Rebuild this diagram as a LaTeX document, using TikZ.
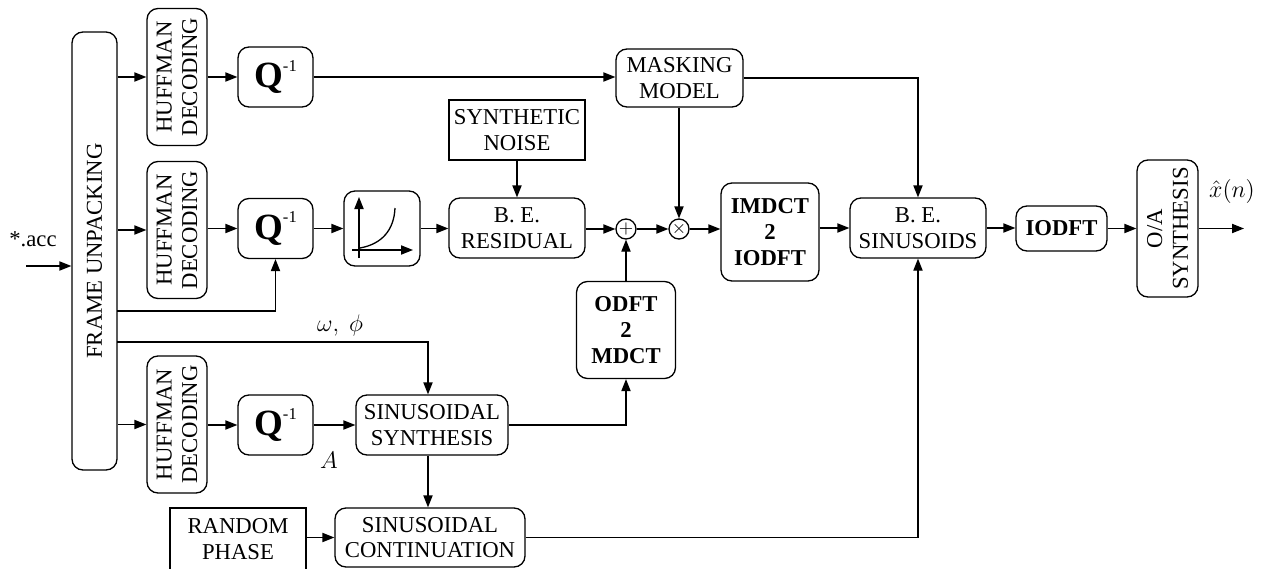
\documentclass[tikz,border=0pt]{standalone}
\usepackage{fontspec}
\setmainfont{Liberation Serif}
\usetikzlibrary{arrows.meta,calc}
\begin{document}
\begin{tikzpicture}[x=0.5pt,y=-0.5pt,
  line width=0.65pt,
  arr/.style={-{Triangle[length=6pt,width=4.6pt]}},
  txt/.style={font=\fontsize{11.35}{12.85}\selectfont, align=center, inner sep=0pt},
  rbox/.style={txt, draw, rounded corners=5.5pt},
  sbox/.style={txt, draw},
  opc/.style={draw, circle, minimum size=10pt, inner sep=0pt}
]
\useasboundingbox (0,0) rectangle (1264,568);
\newcommand{\qinv}{{\fontsize{18.5}{18.5}\selectfont\bfseries Q}\raisebox{8.4pt}{\fontsize{8.3}{8.3}\selectfont -1}}

% nodes
\node[rbox, rotate=90, minimum width=219pt, minimum height=22.5pt] (frame) at (94.5,251) {FRAME UNPACKING};
\node[rbox, rotate=90, minimum width=68.5pt, minimum height=30pt] (huff1) at (177,77) {HUFFMAN\\DECODING};
\node[rbox, rotate=90, minimum width=68.5pt, minimum height=30pt] (huff2) at (177,230) {HUFFMAN\\DECODING};
\node[rbox, rotate=90, minimum width=68.5pt, minimum height=30pt] (huff3) at (177,424.5) {HUFFMAN\\DECODING};
\node[rbox, minimum width=37.5pt, minimum height=30pt] (q1) at (275.5,77) {\qinv};
\node[rbox, minimum width=37.5pt, minimum height=30pt] (q2) at (275.5,228.5) {\qinv};
\node[rbox, minimum width=37.5pt, minimum height=30pt] (q3) at (275.5,425) {\qinv};
\node[rbox, minimum width=38pt, minimum height=37.5pt] (curve) at (382,228.5) {};
\node[sbox, minimum width=68pt, minimum height=30pt] (snoise) at (517,130) {SYNTHETIC\\NOISE};
\node[rbox, minimum width=68pt, minimum height=30pt] (beres) at (517,228) {B. E.\\RESIDUAL};
\node[opc] (plus) at (626,229) {\fontsize{9}{9}\selectfont$+$};
\node[opc] (times) at (679,229) {\fontsize{9}{9}\selectfont$\times$};
\node[rbox, minimum width=63.5pt, minimum height=29pt] (masking) at (679.5,78) {MASKING\\MODEL};
\node[rbox, minimum width=49pt, minimum height=49pt, font=\fontsize{11.35}{12.85}\selectfont\bfseries] (imdct) at (770,232) {IMDCT\\2\\IODFT};
\node[rbox, minimum width=49.5pt, minimum height=48.5pt, font=\fontsize{11.35}{12.85}\selectfont\bfseries] (odft) at (626,330) {ODFT\\2\\MDCT};
\node[rbox, minimum width=68pt, minimum height=30pt] (besin) at (918,228) {B. E.\\SINUSOIDS};
\node[rbox, minimum width=45.5pt, minimum height=22.5pt, font=\fontsize{11.35}{12.85}\selectfont\bfseries] (iodft) at (1061.5,228.5) {IODFT};
\node[rbox, rotate=90, minimum width=68.5pt, minimum height=30.5pt] (oa) at (1167.5,228.5) {O/A\\SYNTHESIS};
\node[rbox, minimum width=76pt, minimum height=30pt] (synth) at (432,425) {SINUSOIDAL\\SYNTHESIS};
\node[rbox, minimum width=95pt, minimum height=29.5pt] (cont) at (430,537.5) {SINUSOIDAL\\CONTINUATION};
\node[sbox, minimum width=68pt, minimum height=31pt] (random) at (238,539) {RANDOM\\PHASE};

% labels
\node[txt] (acc) at (33,239) {*.acc};
\node[txt, font=\fontsize{12}{14}\selectfont] (wphi) at (340,325) {$\omega,\ \phi$};
\node[txt, font=\fontsize{12}{14}\selectfont] (amp) at (329,460) {$A$};
\node[txt, font=\fontsize{12}{14}\selectfont] (xhat) at (1232,191) {$\hat{x}(n)$};

% coordinates
\coordinate (in) at (26,266);
\coordinate (out) at (1244,228.5);
\coordinate (j1) at (117,311);
\coordinate (j2) at (117,342);

% curve icon
\draw[arr] (359,258) -- (359,197);
\draw[arr] (352,250) -- (413,250);
\draw (360,248) .. controls (382,244) and (394,230) .. (395,208);

% connectors
\draw[arr] (in) -- (in -| frame.north);
\draw[arr] (frame.south |- huff1) -- (huff1);
\draw[arr] (frame.south |- huff2) -- (huff2);
\draw[arr] (frame.south |- huff3) -- (huff3);
\draw[arr] (q1.west -| huff1.south) -- (q1.west);
\draw[arr] (q2.west -| huff2.south) -- (q2.west);
\draw[arr] (q3.west -| huff3.south) -- (q3.west);
\draw[arr] (q1.east) -- (q1.east -| masking.west);
\draw[arr] (masking.east) -| (besin.north);
\draw[arr] (masking.south -| times) -- (times);
\draw[arr] (q2.east) -- (q2.east -| curve.west);
\draw[arr] (curve.east) -- (curve.east -| beres.west);
\draw[arr] (snoise) -- (beres);
\draw[arr] (plus.west -| beres.east) -- (plus.west);
\draw[arr] (plus) -- (times);
\draw[arr] (times.east) -- (times.east -| imdct.west);
\draw[arr] (besin.west -| imdct.east) -- (besin.west);
\draw[arr] (odft) -- (plus);
\draw[arr] (besin.east) -- (besin.east -| iodft.west);
\draw[arr] (iodft.east) -- (iodft.east -| oa.north);
\draw[arr] (oa.south) -- (oa.south -| out);
\draw[arr] (j1) -| (q2.south);
\draw[arr] (j2) -| ([xshift=-2pt]synth.north);
\draw[arr] (q3.east) -- (q3.east -| synth.west);
\draw[arr] ([xshift=-2pt]synth.south) -- ([xshift=-2pt]synth.south |- cont.north);
\draw[arr] (synth.east) -| (odft.south);
\draw[arr] (random.east |- cont.west) -- (cont.west);
\draw[arr] (cont.east) -| (besin.south);
\end{tikzpicture}
\end{document}
